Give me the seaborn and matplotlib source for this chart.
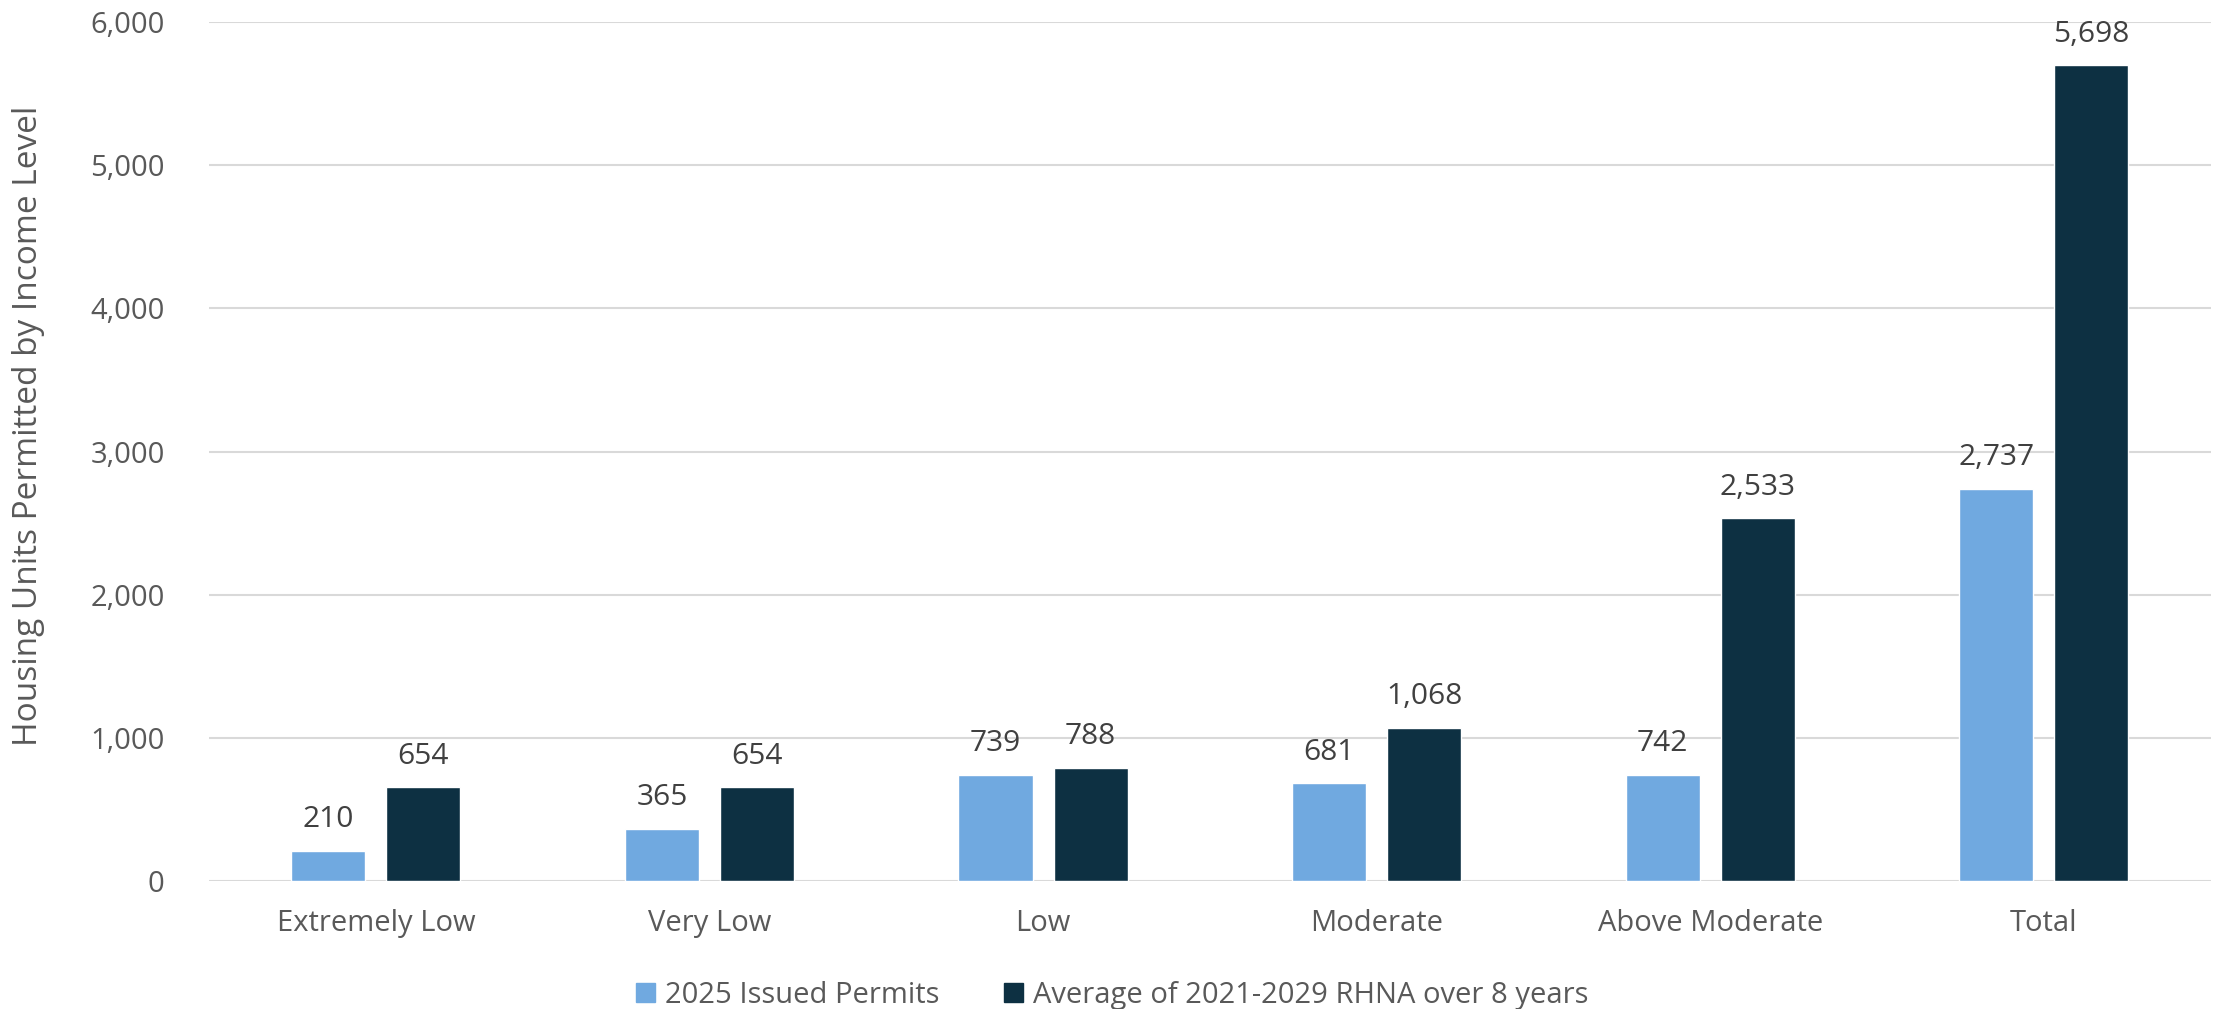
import pandas as pd
import matplotlib.pyplot as plt
import seaborn as sns

categories = ["Extremely Low", "Very Low", "Low", "Moderate", "Above Moderate", "Total"]
issued_2025 = [210, 365, 739, 681, 742, 2737]
rhna_avg = [654, 654, 788, 1068, 2533, 5698]
series_names = ["2025 Issued Permits", "Average of 2021-2029 RHNA over 8 years"]

df = pd.DataFrame({
    "Income Level": categories * 2,
    "Units": issued_2025 + rhna_avg,
    "Series": [series_names[0]] * len(categories) + [series_names[1]] * len(categories),
})

sns.set_theme(style="white")
plt.rcParams["font.family"] = ["Open Sans", "DejaVu Sans"]

fig = plt.figure(figsize=(22.24, 10.09), dpi=100)
ax = fig.add_axes([0.094, 0.127, 0.9, 0.851])

colors = ["#70A9E0", "#0D3042"]
sns.barplot(
    data=df, x="Income Level", y="Units", hue="Series",
    palette=colors, width=0.57, gap=0.22, ax=ax, legend=False,
    saturation=1,
)

for cont in ax.containers:
    ax.bar_label(cont, labels=[f"{v:,.0f}" for v in cont.datavalues],
                 padding=12, fontsize=21.5, color="#404040")

ax.set_ylim(0, 6000)
ax.set_xlim(-0.5, 5.5)
ax.set_yticks(range(0, 6001, 1000))
ax.set_yticklabels([f"{v:,}" for v in range(0, 6001, 1000)])
ax.yaxis.grid(True, color="#D9D9D9", linewidth=1.5)
ax.set_axisbelow(True)
for s in ax.spines.values():
    s.set_visible(False)
ax.tick_params(axis="both", colors="#595959", labelsize=21, length=0)
ax.tick_params(axis="y", pad=32)
ax.tick_params(axis="x", pad=20)
ax.set_xlabel("")
ax.set_ylabel("Housing Units Permitted by Income Level", fontsize=24, color="#595959")
ax.yaxis.set_label_coords(-0.082, 0.53)

handles = [plt.Rectangle((0, 0), 1, 1, color=c) for c in colors]
fig.legend(handles, series_names, loc="lower center", bbox_to_anchor=(0.5, -0.027),
           ncol=2, frameon=False, fontsize=21, labelcolor="#595959",
           handlelength=0.65, handleheight=0.65, handletextpad=0.35, columnspacing=2.2)

fig.savefig("out.png", dpi=100)
